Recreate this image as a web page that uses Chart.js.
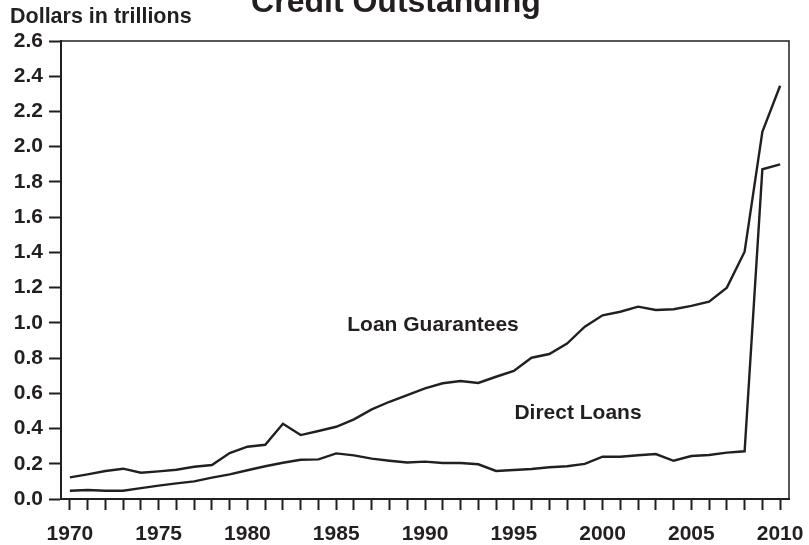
<!DOCTYPE html>
<html>
<head>
<meta charset="utf-8">
<title>Credit Outstanding</title>
<script src="https://cdn.jsdelivr.net/npm/chart.js@4/dist/chart.umd.min.js"></script>
<style>
  html, body { margin: 0; padding: 0; background: #ffffff; }
  #grafico { display: block; }
</style>
</head>
<body>
<canvas id="grafico" width="809" height="545"></canvas>
<script>
// anios del grafico
const years = [
  1970, 1971, 1972, 1973, 1974, 1975, 1976, 1977, 1978, 1979,
  1980, 1981, 1982, 1983, 1984, 1985, 1986, 1987, 1988, 1989,
  1990, 1991, 1992, 1993, 1994, 1995, 1996, 1997, 1998, 1999,
  2000, 2001, 2002, 2003, 2004, 2005, 2006, 2007, 2008, 2009, 2010
];

// dollars in trillions
const loanGuarantees = [
  0.123, 0.140, 0.159, 0.172, 0.149, 0.157, 0.166, 0.183, 0.193, 0.261,
  0.297, 0.308, 0.427, 0.363, 0.386, 0.410, 0.452, 0.509, 0.552, 0.590,
  0.628, 0.657, 0.670, 0.659, 0.694, 0.727, 0.802, 0.823, 0.882, 0.978,
  1.043, 1.063, 1.092, 1.073, 1.077, 1.096, 1.120, 1.200, 1.404, 2.085, 2.346
];

const directLoans = [
  0.047, 0.051, 0.047, 0.047, 0.062, 0.076, 0.089, 0.100, 0.121, 0.140,
  0.163, 0.186, 0.206, 0.223, 0.225, 0.259, 0.248, 0.229, 0.217, 0.207,
  0.212, 0.204, 0.204, 0.197, 0.159, 0.165, 0.170, 0.180, 0.186, 0.199,
  0.240, 0.240, 0.248, 0.255, 0.217, 0.244, 0.250, 0.263, 0.271, 1.872, 1.900
];

const labeledYears = [1970, 1975, 1980, 1985, 1990, 1995, 2000, 2005, 2010];
const seriesNames = ["Loan Guarantees", "Direct Loans"];

const INK = "#231f20";
const FONT = "'Liberation Sans', Arial, Helvetica, sans-serif";

Chart.defaults.font.family = FONT;
Chart.defaults.color = INK;

function puntos(valores) {
  return years.map((anio, i) => ({ x: anio, y: valores[i] }));
}

// titulo, unidad, marco y nombres de las series
const textos = {
  id: 'textos',
  afterDraw(chart) {
    const ctx = chart.ctx;
    const a = chart.chartArea;
    ctx.save();

    // marco arriba y a la derecha
    ctx.strokeStyle = INK;
    ctx.lineWidth = 1.5;
    ctx.beginPath();
    ctx.moveTo(a.left, a.top);
    ctx.lineTo(a.right, a.top);
    ctx.lineTo(a.right, a.bottom);
    ctx.stroke();

    ctx.fillStyle = INK;
    ctx.textBaseline = 'alphabetic';

    ctx.font = "bold 32px " + FONT;
    ctx.textAlign = 'center';
    ctx.fillText("Credit Outstanding", 396, 12);

    ctx.font = "bold 21.5px " + FONT;
    ctx.textAlign = 'left';
    ctx.fillText("Dollars in trillions", 10, 23);

    ctx.font = "bold 21px " + FONT;
    ctx.textAlign = 'center';
    ctx.fillText(seriesNames[0], 433, 331);
    ctx.fillText(seriesNames[1], 578, 419);

    ctx.restore();
  }
};

const ctx = document.getElementById('grafico');

const grafico = new Chart(ctx, {
  type: 'line',
  data: {
    datasets: [{
      label: seriesNames[0],
      data: puntos(loanGuarantees),
      borderColor: INK,
      borderWidth: 2.4,
      pointRadius: 0,
      tension: 0,
      fill: false
    }, {
      label: seriesNames[1],
      data: puntos(directLoans),
      borderColor: INK,
      borderWidth: 2.4,
      pointRadius: 0,
      tension: 0,
      fill: false
    }]
  },
  options: {
    responsive: false,
    animation: false,
    layout: {
      padding: { left: 0, top: 41, right: 20, bottom: 0 }
    },
    plugins: {
      legend: { display: false },
      tooltip: { enabled: false },
      title: { display: false }
    },
    scales: {
      x: {
        type: 'linear',
        min: 1969.5,
        max: 2010.5,
        // una marca por anio, etiqueta cada cinco
        afterBuildTicks: (scale) => { scale.ticks = years.map(v => ({ value: v })); },
        afterFit: (scale) => {
          scale.height = 46;
          scale.paddingLeft = 0;
          scale.paddingRight = 0;
        },
        border: { display: true, color: INK, width: 2 },
        grid: {
          drawOnChartArea: false,
          drawTicks: true,
          tickLength: 11,
          tickColor: INK,
          tickWidth: 2
        },
        ticks: {
          autoSkip: false,
          maxRotation: 0,
          padding: 12,
          color: INK,
          font: { size: 21, weight: 'bold' },
          callback: (valor) => labeledYears.includes(valor) ? String(valor) : ''
        }
      },
      y: {
        min: 0,
        max: 2.6,
        afterFit: (scale) => {
          scale.width = 61;
          scale.paddingTop = 0;
          scale.paddingBottom = 0;
        },
        border: { display: true, color: INK, width: 2 },
        grid: {
          drawOnChartArea: false,
          drawTicks: true,
          tickLength: 12,
          tickColor: INK,
          tickWidth: 2
        },
        ticks: {
          stepSize: 0.2,
          padding: 6,
          color: INK,
          font: { size: 21, weight: 'bold' },
          callback: (valor) => valor.toFixed(1)
        }
      }
    }
  },
  plugins: [textos]
});
</script>
</body>
</html>
